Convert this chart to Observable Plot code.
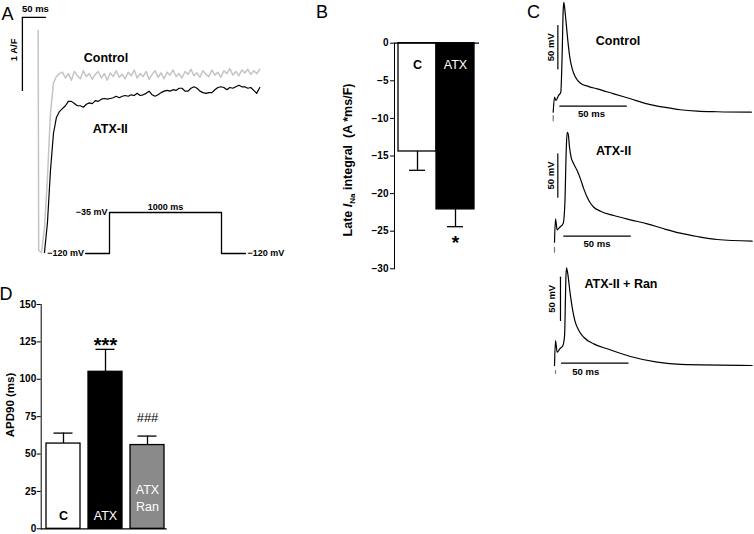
<!DOCTYPE html>
<html><head><meta charset="utf-8">
<script src="https://cdn.jsdelivr.net/npm/d3@7"></script>
<script src="https://cdn.jsdelivr.net/npm/@observablehq/plot@0.6"></script>
<style>
html,body{margin:0;padding:0;background:#fff;}
#chart{position:relative;width:754px;height:534px;overflow:hidden;background:#fff;}
#chart svg{position:absolute;left:0;top:0;}
</style></head><body><div id="chart"></div>
<script>
// ---------- Panel A: late INa current traces (t in ms, I in A/F) ----------
const controlCurrent = [[-0.7,0.41],[0.4,-2.60],[6.5,-2.63],[13,-2.30],[19.5,-1.60],[26,-0.72],[32.5,-0.31],[39,-0.22],[45.5,-0.18],
[52,-0.16],[58.5,-0.24],[65,-0.18],[71.5,-0.27],[78,-0.15],[84.5,-0.21],[91,-0.25],[97.5,-0.14],[104,-0.22],[110.5,-0.18],
[117,-0.26],[123.5,-0.19],[130,-0.15],[136.5,-0.24],[143,-0.18],[149.5,-0.27],[156,-0.17],[162.5,-0.22],[169,-0.14],[175.5,-0.23],
[182,-0.19],[188.5,-0.25],[195,-0.16],[201.5,-0.21],[208,-0.13],[214.5,-0.24],[221,-0.18],[227.5,-0.22],[234,-0.15],[240.5,-0.26],
[247,-0.19],[253.5,-0.14],[260,-0.23],[266.5,-0.17],[273,-0.25],[279.5,-0.16],[286,-0.20],[292.5,-0.13],[299,-0.22],[305.5,-0.18],
[312,-0.24],[318.5,-0.15],[325,-0.19],[331.5,-0.12],[338,-0.21],[344.5,-0.17],[351,-0.23],[357.5,-0.14],[364,-0.19],[370.5,-0.22],
[377,-0.13],[383.5,-0.20],[390,-0.16],[396.5,-0.23],[403,-0.14],[409.5,-0.18],[416,-0.11],[422.5,-0.20],[429,-0.15],[435.5,-0.21],
[442,-0.13],[448.5,-0.17],[455,-0.12],[461.5,-0.19],[468,-0.14],[474.5,-0.18],[481,-0.12]];
const atxCurrent = [[13,-2.63],[19.5,-2.22],[26,-1.51],[32.5,-1.00],[39,-0.78],[45.5,-0.70],[52,-0.66],[58.5,-0.62],[65,-0.56],
[71.5,-0.56],[78,-0.59],[84.5,-0.62],[91,-0.62],[97.5,-0.64],[104,-0.60],[110.5,-0.58],[117,-0.59],[123.5,-0.55],[130,-0.56],
[136.5,-0.53],[143,-0.52],[149.5,-0.53],[156,-0.52],[162.5,-0.51],[169,-0.49],[175.5,-0.51],[182,-0.49],[188.5,-0.48],[195,-0.49],
[201.5,-0.47],[208,-0.48],[214.5,-0.45],[221,-0.48],[227.5,-0.47],[234,-0.45],[240.5,-0.42],[247,-0.47],[253.5,-0.49],[260,-0.47],
[266.5,-0.44],[273,-0.42],[279.5,-0.41],[286,-0.42],[292.5,-0.40],[299,-0.41],[305.5,-0.38],[312,-0.38],[318.5,-0.42],[325,-0.42],
[331.5,-0.38],[338,-0.36],[344.5,-0.38],[351,-0.42],[357.5,-0.44],[364,-0.45],[370.5,-0.44],[377,-0.44],[383.5,-0.40],[390,-0.37],
[396.5,-0.36],[403,-0.37],[409.5,-0.40],[416,-0.37],[422.5,-0.38],[429,-0.36],[435.5,-0.34],[442,-0.36],[448.5,-0.36],[455,-0.38],
[461.5,-0.37],[468,-0.41],[474.5,-0.45],[481,-0.37]];
const aTimeBar = [[-35,0.59],[15,0.59]];      // 50 ms
const aCurrentBar = [[-35,0.59],[-35,-0.41]]; // 1 A/F
// voltage protocol (ms, mV)
const protocolT = [-214,0,0,1000,1000,1214];
const protocolV = [-120,-120,-35,-35,-120,-120];

// ---------- Panel B ----------
const bGroups = ["C","ATX"];
const bMeans = [-14.4,-22.1];
const bErrors = [2.5,2.3];
const bSig = ["","*"];
const bTicks = [0,-5,-10,-15,-20,-25,-30];

// ---------- Panel C: action potentials (t in ms, V in mV) ----------
const apControl = [[0,-85],[1.0,-67.7],[2.0,-71.5],[4.0,-65.7],[5.7,-61.9],[6.8,-13.8],[7.5,32.3],[8.0,41.9],[8.7,34.3],[9.8,17.0],
[11.0,-2.3],[12.5,-21.6],[14.3,-34.9],[16.8,-44.6],[20.5,-51.6],[26.8,-55.4],[33.1,-58.0],[45.6,-63.8],[58.1,-69.5],[70.7,-75.3],
[83.2,-79.2],[95.7,-82.2],[108.3,-83.8],[123.3,-84.5],[149,-85]];
const apATX = [[0,-85],[0.75,-58.0],[2.0,-70.7],[4.0,-67.7],[6.5,-63.5],[7.8,-40],[8.8,20],[9.5,41.9],[10.3,40],[11.3,24.6],
[12.5,13],[14.5,5.4],[17.0,-2.3],[19.5,-11.9],[22.0,-23.4],[25.8,-36.9],[29.5,-44.6],[34.6,-49.2],[44.6,-54.2],[57.1,-59.2],
[69.7,-63.8],[82.2,-69.5],[94.7,-74.6],[107.3,-78.4],[122.3,-81.9],[148.6,-83.8]];
const apRan = [[0,-85],[0.75,-56.2],[2.0,-69.7],[4.0,-65.7],[6.3,-61.9],[7.6,-50],[8.0,-25.4],[8.5,13],[9.0,27.7],[10,20.8],
[11.5,1.5],[13.3,-17.8],[15.3,-33.1],[18.3,-44.6],[22.0,-52.4],[29.5,-60.0],[39.6,-65.7],[57.1,-74.6],[77.2,-81.2],[94.7,-83.8],[148.6,-85]];
const apTraces = [
  {name:"Control", trace: apControl, mvBar:[[3.5,15],[3.5,-35]], msBar:[[5,-78],[55,-78]], artifact:[[0,-89],[0,-95]]},
  {name:"ATX-II", trace: apATX, mvBar:[[2.5,17],[2.5,-33]], msBar:[[7,-78],[57,-78]], artifact:[[0,-91],[0,-96.5]]},
  {name:"ATX-II + Ran", trace: apRan, mvBar:[[4.5,17],[4.5,-33]], msBar:[[5.3,-82.3],[55.3,-82.3]], artifact:[[0.75,-91],[0.75,-94]]}
];

// ---------- Panel D ----------
const dGroups = ["C","ATX","ATX Ran"];
const dLabels = ["C","ATX","ATX\nRan"];
const dMeans = [57,105,56];
const dErrors = [7,15,6];
const dSig = ["","***","###"];
const dTicks = [0,25,50,75,100,125,150];

// ---------- layout / styles ----------
const W = 754, H = 534;
const FONT = "'Liberation Sans', Arial, Helvetica, sans-serif";
const barFill = {"C":"white","ATX":"black","ATX Ran":"#8a8a8a"};
const baseStyle = {background:"transparent", fontFamily: FONT, color:"black", overflow:"visible"};
const chart = document.getElementById("chart");
const X = d => d[0], Y = d => d[1];

// Panel A currents
chart.append(Plot.plot({
  width: W, height: H, margin: 0, style: baseStyle,
  x: {domain:[0,50], range:[38,61], axis:null},
  y: {domain:[0,-1], range:[60,133], axis:null},
  marks: [
    Plot.line(controlCurrent, {x:X, y:Y, stroke:"#c4c4c4", strokeWidth:1.5}),
    Plot.line(atxCurrent, {x:X, y:Y, stroke:"black", strokeWidth:1.2}),
    Plot.line(aTimeBar, {x:X, y:Y, stroke:"black", strokeWidth:1.3}),
    Plot.line(aCurrentBar, {x:X, y:Y, stroke:"black", strokeWidth:1.3}),
    Plot.text([aTimeBar], {x: d=>d3.mean(d,X), y: d=>d[0][1], text:()=> "50 ms", dy:-8, dx:1.5, fontSize:9.5, fontWeight:"bold"}),
    Plot.text([aCurrentBar], {x: d=>d[0][0], y: d=>d3.mean(d,Y), text:()=> "1 A/F", dx:-8.5, dy:-4, rotate:-90, fontSize:9.5, fontWeight:"bold"}),
    Plot.text(controlCurrent.filter(d=>d[0]===143), {x:X, y:Y, text:()=> "Control", dx:1.7, dy:-16, fontSize:12.5, fontWeight:"bold"}),
    Plot.text(atxCurrent.filter(d=>d[0]===156), {x:X, y:Y, text:()=> "ATX-II", dy:31, fontSize:12.5, fontWeight:"bold"})
  ]
}));

// Panel A protocol
const protocol = protocolT.map((t,i)=>({t, v:protocolV[i]}));
chart.append(Plot.plot({
  width: W, height: H, margin: 0, style: baseStyle,
  x: {domain:[0,1000], range:[109,221], axis:null},
  y: {domain:[-120,-35], range:[253,212], axis:null},
  marks: [
    Plot.line(protocol, {x:"t", y:"v", stroke:"black", strokeWidth:1.3}),
    Plot.text([protocol[2]], {x:"t", y:"v", text: d=>`−${-d.v} mV`, textAnchor:"end", dx:-2, fontSize:9, fontWeight:"bold"}),
    Plot.text([protocol[2]], {x: ()=> (protocol[2].t+protocol[3].t)/2, y:"v", text: ()=>`${protocol[3].t-protocol[2].t} ms`, dy:-5.5, fontSize:9, fontWeight:"bold"}),
    Plot.text([protocol[0]], {x:"t", y:"v", text: d=>`−${-d.v} mV`, textAnchor:"end", dx:-1.5, fontSize:9, fontWeight:"bold"}),
    Plot.text([protocol[5]], {x:"t", y:"v", text: d=>`−${-d.v} mV`, textAnchor:"start", dx:2, fontSize:9, fontWeight:"bold"})
  ]
}));

// Panel B
const bTable = bGroups.map((g,i)=>({group:g, mean:bMeans[i], err:bErrors[i], sig:bSig[i]}));
chart.append(Plot.plot({
  width: W, height: H,
  marginLeft: 394, marginRight: W-479, marginTop: 42.7, marginBottom: H-268.3,
  style: {...baseStyle, fontSize:"10px", fontWeight:"bold"},
  x: {type:"band", domain: bGroups, range:[397.7,474], padding:0, axis:null},
  y: {domain:[-30,0], ticks: bTicks, tickSize:4, tickPadding:2, tickFormat: d3.format("d"), line:true, label:null},
  color: {type:"identity"},
  marks: [
    Plot.ruleX(bTable, {x:"group", y1:"mean", y2: d=>d.mean-d.err, strokeWidth:1.3}),
    Plot.tickY(bTable, {x:"group", y: d=>d.mean-d.err, insetLeft:11, insetRight:11, strokeWidth:1.3}),
    Plot.barY(bTable, {x:"group", y:"mean", fill: d=>barFill[d.group], stroke:"black", strokeWidth:1.3}),
    Plot.ruleY([0], {strokeWidth:1.3}),
    Plot.text(bTable.filter(d=>d.group==="C"), {x:"group", text:"group", frameAnchor:"top", dy:17, fontSize:12.5, fontWeight:"bold", fill:"black"}),
    Plot.text(bTable.filter(d=>d.group!=="C"), {x:"group", text:"group", frameAnchor:"top", dy:17, fontSize:12.5, fontWeight:"normal", fill:"white"}),
    Plot.text(bTable.filter(d=>d.sig), {x:"group", y: d=>d.mean-d.err, text:"sig", dy:16.5, fontSize:19, fontWeight:"bold"})
  ]
}));

// Panel C
apTraces.forEach((ap, i) => {
  const geom = [{x0:552.7, y0:111.7},{x0:554, y0:241.7},{x0:554, y0:365}][i];
  const labelOffset = [{dx:54.2, dy:38.3},{dx:46.4, dy:18.3},{dx:54.5, dy:16}][i];
  const mvOff = [{dx:-7.3, dy:0},{dx:-7.3, dy:0},{dx:-8.3, dy:0}][i];
  const msOff = [{dx:-1.6, dy:7.5},{dx:0, dy:7.6},{dx:-9, dy:9}][i];
  const peak = d3.greatest(ap.trace, Y);
  chart.append(Plot.plot({
    width: W, height: H, margin: 0, style: baseStyle,
    x: {domain:[0,50], range:[geom.x0, geom.x0+66.5], axis:null},
    y: {domain:[-85,-35], range:[geom.y0, geom.y0-43.3], axis:null},
    marks: [
      Plot.line(ap.trace, {x:X, y:Y, stroke:"black", strokeWidth:1.2, curve:"monotone-x"}),
      Plot.line(ap.artifact, {x:X, y:Y, stroke:"#777", strokeWidth:1.2}),
      Plot.line(ap.mvBar, {x:X, y:Y, stroke:"black", strokeWidth:1.2}),
      Plot.line(ap.msBar, {x:X, y:Y, stroke:"black", strokeWidth:1.2}),
      Plot.text([ap.mvBar], {x: d=>d[0][0], y: d=>d3.mean(d,Y), text:()=>"50 mV", rotate:-90, dx:mvOff.dx, fontSize:9.5, fontWeight:"bold"}),
      Plot.text([ap.msBar], {x: d=>d3.mean(d,X), y: d=>d[0][1], text:()=>"50 ms", dx:msOff.dx, dy:msOff.dy, fontSize:9.5, fontWeight:"bold"}),
      Plot.text([peak], {x:X, y:Y, text:()=>ap.name, dx:labelOffset.dx, dy:labelOffset.dy, fontSize:12.5, fontWeight:"bold"})
    ]
  }));
});

// Panel D
const dTable = dGroups.map((g,i)=>({group:g, label:dLabels[i], mean:dMeans[i], err:dErrors[i], sig:dSig[i]}));
chart.append(Plot.plot({
  width: W, height: H,
  marginLeft: 40.7, marginRight: W-166.7, marginTop: 304, marginBottom: H-528.3,
  style: {...baseStyle, fontSize:"10px", fontWeight:"bold"},
  x: {type:"band", domain: dGroups, range:[45.7,163.3], paddingInner:0.2, paddingOuter:0, axis:null},
  y: {domain:[0,150], ticks: dTicks, tickSize:4, tickPadding:1, tickFormat: d3.format("d"), line:true, label:null},
  color: {type:"identity"},
  marks: [
    Plot.ruleX(dTable, {x:"group", y1:"mean", y2: d=>d.mean+d.err, strokeWidth:1.3}),
    Plot.tickY(dTable, {x:"group", y: d=>d.mean+d.err, insetLeft:7.5, insetRight:7.5, strokeWidth:1.3}),
    Plot.barY(dTable, {x:"group", y:"mean", fill: d=>barFill[d.group], stroke:"black", strokeWidth:1.3}),
    Plot.ruleY([0], {strokeWidth:1.3}),
    Plot.text(dTable.filter(d=>d.group==="C"), {x:"group", text:"label", frameAnchor:"bottom", dy:-9, fontSize:12.5, fontWeight:"bold", fill:"black"}),
    Plot.text(dTable.filter(d=>d.group==="ATX"), {x:"group", text:"label", frameAnchor:"bottom", dy:-9, fontSize:12.5, fontWeight:"normal", fill:"white"}),
    Plot.text(dTable.filter(d=>d.group==="ATX Ran"), {x:"group", text:"label", frameAnchor:"bottom", dy:-17.8, lineHeight:1.4, fontSize:12.5, fontWeight:"normal", fill:"white"}),
    Plot.text(dTable.filter(d=>d.sig==="***"), {x:"group", y: d=>d.mean+d.err, text:"sig", dy:-4, fontSize:20, fontWeight:"bold"}),
    Plot.text(dTable.filter(d=>d.sig==="###"), {x:"group", y: d=>d.mean+d.err, text:"sig", dy:-18.6, fontSize:13, fontWeight:"normal"})
  ]
}));

// Overlay: panel letters and rich axis titles
const ov = d3.create("svg").attr("width", W).attr("height", H).style("font-family", FONT).style("overflow","visible");
[["A",1.5,20],["B",316,18.3],["C",527,18.3],["D",-0.5,300]].forEach(([t,x,y]) =>
  ov.append("text").attr("x",x).attr("y",y).attr("font-size",18).text(t));
const bl = ov.append("text").attr("transform","translate(352,160) rotate(-90)").attr("text-anchor","middle")
  .attr("font-size",12.5).attr("font-weight","bold").style("white-space","pre");
bl.append("tspan").text("Late ");
bl.append("tspan").attr("font-style","italic").text("I");
bl.append("tspan").attr("font-size",8).attr("dy",3).text("Na");
bl.append("tspan").attr("dy",-3).text(" integral  (A *ms/F)");
ov.append("text").attr("transform","translate(14.2,405) rotate(-90)").attr("text-anchor","middle")
  .attr("font-size",11.5).attr("font-weight","bold").text("APD90 (ms)");
chart.append(ov.node());
</script></body></html>
